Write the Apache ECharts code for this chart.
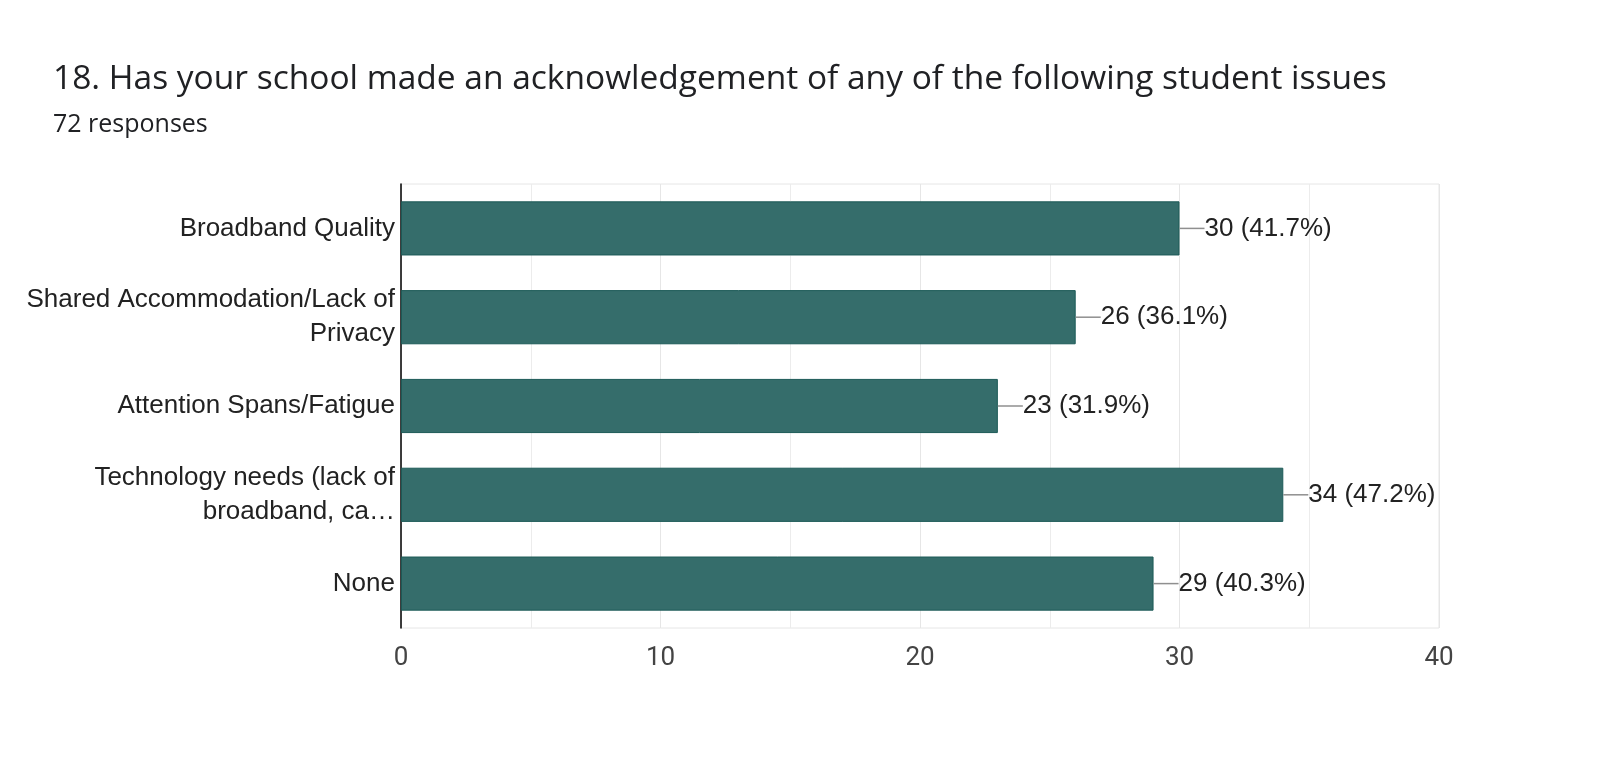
<!DOCTYPE html>
<html>
<head>
<meta charset="utf-8">
<script src="https://cdn.jsdelivr.net/npm/echarts@6/dist/echarts.min.js"></script>
<style>
html,body{margin:0;padding:0;background:#fff;}
#chart{width:1600px;height:761px;}
</style>
</head>
<body>
<div id="chart"></div>
<script>
const titleText = '18. Has your school made an acknowledgement of any of the following student issues';
const subtitleText = '72 responses';
const categories = [
  'Broadband Quality',
  'Shared Accommodation/Lack of\nPrivacy',
  'Attention Spans/Fatigue',
  'Technology needs (lack of\nbroadband, ca…',
  'None'
];
const counts = [30, 26, 23, 34, 29];
const percents = ['41.7%', '36.1%', '31.9%', '47.2%', '40.3%'];
const xTicks = [0, 10, 20, 30, 40];

const chart = echarts.init(document.getElementById('chart'), null, {renderer: 'canvas'});
const labelFont = '"Liberation Sans", Arial, sans-serif';
chart.setOption({
  backgroundColor: '#ffffff',
  animation: false,
  title: [
    {text: titleText, left: 53, top: 62, padding: 0,
     textStyle: {fontFamily: 'Open Sans', fontWeight: 'normal', fontSize: 33.5, color: '#202124'}},
    {text: subtitleText, left: 53, top: 112, padding: 0,
     textStyle: {fontFamily: 'Open Sans', fontWeight: 'normal', fontSize: 25, color: '#202124'}}
  ],
  grid: {left: 401, right: 161, top: 184, bottom: 133, show: true, borderColor: '#e6e6e6', borderWidth: 1},
  xAxis: {
    type: 'value', min: xTicks[0], max: xTicks[xTicks.length - 1], interval: 10,
    axisLine: {show: false}, axisTick: {show: false},
    axisLabel: {fontFamily: 'Roboto', fontSize: 26, color: '#444', margin: 17},
    splitLine: {show: true, lineStyle: {color: '#e6e6e6', width: 1}},
    minorTick: {show: false, splitNumber: 2},
    minorSplitLine: {show: true, lineStyle: {color: '#ececec', width: 1}}
  },
  yAxis: {
    type: 'category', data: categories, inverse: true,
    axisLine: {show: true, lineStyle: {color: '#000', width: 1.5}},
    axisTick: {show: false},
    axisLabel: {fontFamily: labelFont, fontSize: 26, color: '#222', margin: 6, lineHeight: 34, align: 'right'}
  },
  series: [{
    type: 'bar',
    data: counts,
    barCategoryGap: '39%',
    itemStyle: {color: '#356d6b', borderColor: '#1c5a57', borderWidth: 1},
    label: {
      show: true, position: 'right', distance: 0,
      formatter: p => '{ln|}{v|' + counts[p.dataIndex] + ' (' + percents[p.dataIndex] + ')}',
      rich: {
        ln: {width: 25, height: 1.5, backgroundColor: '#8f8f8f'},
        v: {fontFamily: labelFont, fontSize: 26, color: '#222'}
      }
    }
  }]
});
</script>
</body>
</html>
